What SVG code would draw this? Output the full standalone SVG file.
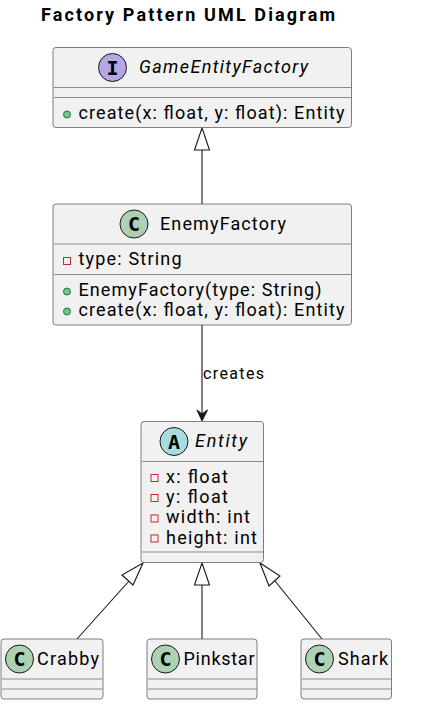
<svg xmlns="http://www.w3.org/2000/svg" width="424" height="723" viewBox="0 0 424 723">
<style>
text{font-family:Roboto,"Liberation Sans",sans-serif;fill:#000;font-size:18px}
.title{font-weight:700;font-size:18px}
.i{font-style:italic}
.box{fill:#f1f1f1;stroke:#5f5f5f;stroke-width:.8}
.div{stroke:#8a8a8a;stroke-width:1;fill:none}
.pri,.pub{stroke-width:1}
.circ{stroke:#181818;stroke-width:1}
.cc{fill:#add1b2}.ci{fill:#b4a7e5}.ca{fill:#a9dcdf}
text.g{font-family:"DejaVu Sans Mono","Liberation Mono",monospace;font-weight:700;font-size:20px;text-anchor:middle}
.conn{fill:none;stroke:#181818;stroke-width:1.1}
.hol{fill:#fff;stroke:#181818;stroke-width:1.1}
.pub{fill:#84be84;stroke:#038048}
.pri{fill:none;stroke:#c82930}
</style>
<text class="title" x="41" y="21" textLength="294" lengthAdjust="spacing">Factory Pattern UML Diagram</text>
<g id="connectors">
<path class="conn" d="M202 204V150"/><polygon class="hol" points="202,128 194.500,150 209.500,150"/>
<path class="conn" d="M202 325V418"/><path d="M202 421L197 410L202 414L207.500 410Z" fill="#181818" stroke="#181818"/>
<text x="203" y="379" style="font-size:16px" textLength="61">creates</text>
<path class="conn" d="M77 639L129 581"/><polygon class="hol" points="143,563 122,575 133,585"/>
<path class="conn" d="M202 639V585"/><polygon class="hol" points="202,563 194.500,585 209.500,585"/>
<path class="conn" d="M322 639L275 581"/><polygon class="hol" points="260,563 269,586 280,576"/>
</g>
<g id="GameEntityFactory">
<rect class="box" x="53" y="47.500" width="298.500" height="80" rx="3"/>
<path class="div" d="M54 87.500H351M54 97.500H351"/>
<circle class="circ ci" cx="112.500" cy="67.500" r="14"/>
<text class="g" x="112.500" y="74.500">I</text>
<text class="i" x="139" y="73" textLength="169">GameEntityFactory</text>
<circle class="pub" cx="67" cy="114.500" r="3.500"/>
<text x="78.500" y="119" textLength="266">create(x: float, y: float): Entity</text>
</g>
<g id="EnemyFactory">
<rect class="box" x="53" y="204" width="298.500" height="121" rx="3"/>
<path class="div" d="M54 244H351M54 274.500H351"/>
<circle class="circ cc" cx="134" cy="224" r="14"/>
<text class="g" x="134" y="231">C</text>
<text x="160" y="230" textLength="126">EnemyFactory</text>
<rect class="pri" x="63.500" y="257.500" width="7" height="7"/>
<text x="78.500" y="265" textLength="103">type: String</text>
<circle class="pub" cx="67" cy="291.500" r="3.500"/>
<text x="78.500" y="296" textLength="243">EnemyFactory(type: String)</text>
<circle class="pub" cx="67" cy="311.500" r="3.500"/>
<text x="78.500" y="316" textLength="266">create(x: float, y: float): Entity</text>
</g>
<g id="Entity">
<rect class="box" x="141" y="421.500" width="122.500" height="141" rx="3"/>
<path class="div" d="M142 461.500H263M142 552H263"/>
<circle class="circ ca" cx="174" cy="441.500" r="14"/>
<text class="g" x="174" y="448.500">A</text>
<text class="i" x="195" y="447" textLength="52">Entity</text>
<rect class="pri" x="151" y="474.500" width="7" height="7"/>
<text x="166" y="483" textLength="62">x: float</text>
<rect class="pri" x="151" y="494.500" width="7" height="7"/>
<text x="166" y="503" textLength="62">y: float</text>
<rect class="pri" x="151" y="515" width="7" height="7"/>
<text x="166" y="523" textLength="84">width: int</text>
<rect class="pri" x="151" y="535" width="7" height="7"/>
<text x="166" y="544" textLength="91">height: int</text>
</g>
<g id="Crabby">
<rect class="box" x="1" y="639" width="102" height="60" rx="3"/>
<path class="div" d="M2 679H103M2 689H103"/>
<circle class="circ cc" cx="19.500" cy="659" r="14"/>
<text class="g" x="19.500" y="666">C</text>
<text x="37" y="665" textLength="62">Crabby</text>
</g>
<g id="Pinkstar">
<rect class="box" x="147" y="639" width="110" height="60" rx="3"/>
<path class="div" d="M148 679H257M148 689H257"/>
<circle class="circ cc" cx="165.500" cy="659" r="14"/>
<text class="g" x="165.500" y="666">C</text>
<text x="183.500" y="665" textLength="71">Pinkstar</text>
</g>
<g id="Shark">
<rect class="box" x="301" y="639" width="90.500" height="60" rx="3"/>
<path class="div" d="M302 679H391M302 689H391"/>
<circle class="circ cc" cx="319.500" cy="659" r="14"/>
<text class="g" x="319.500" y="666">C</text>
<text x="338" y="665" textLength="50">Shark</text>
</g>
</svg>
